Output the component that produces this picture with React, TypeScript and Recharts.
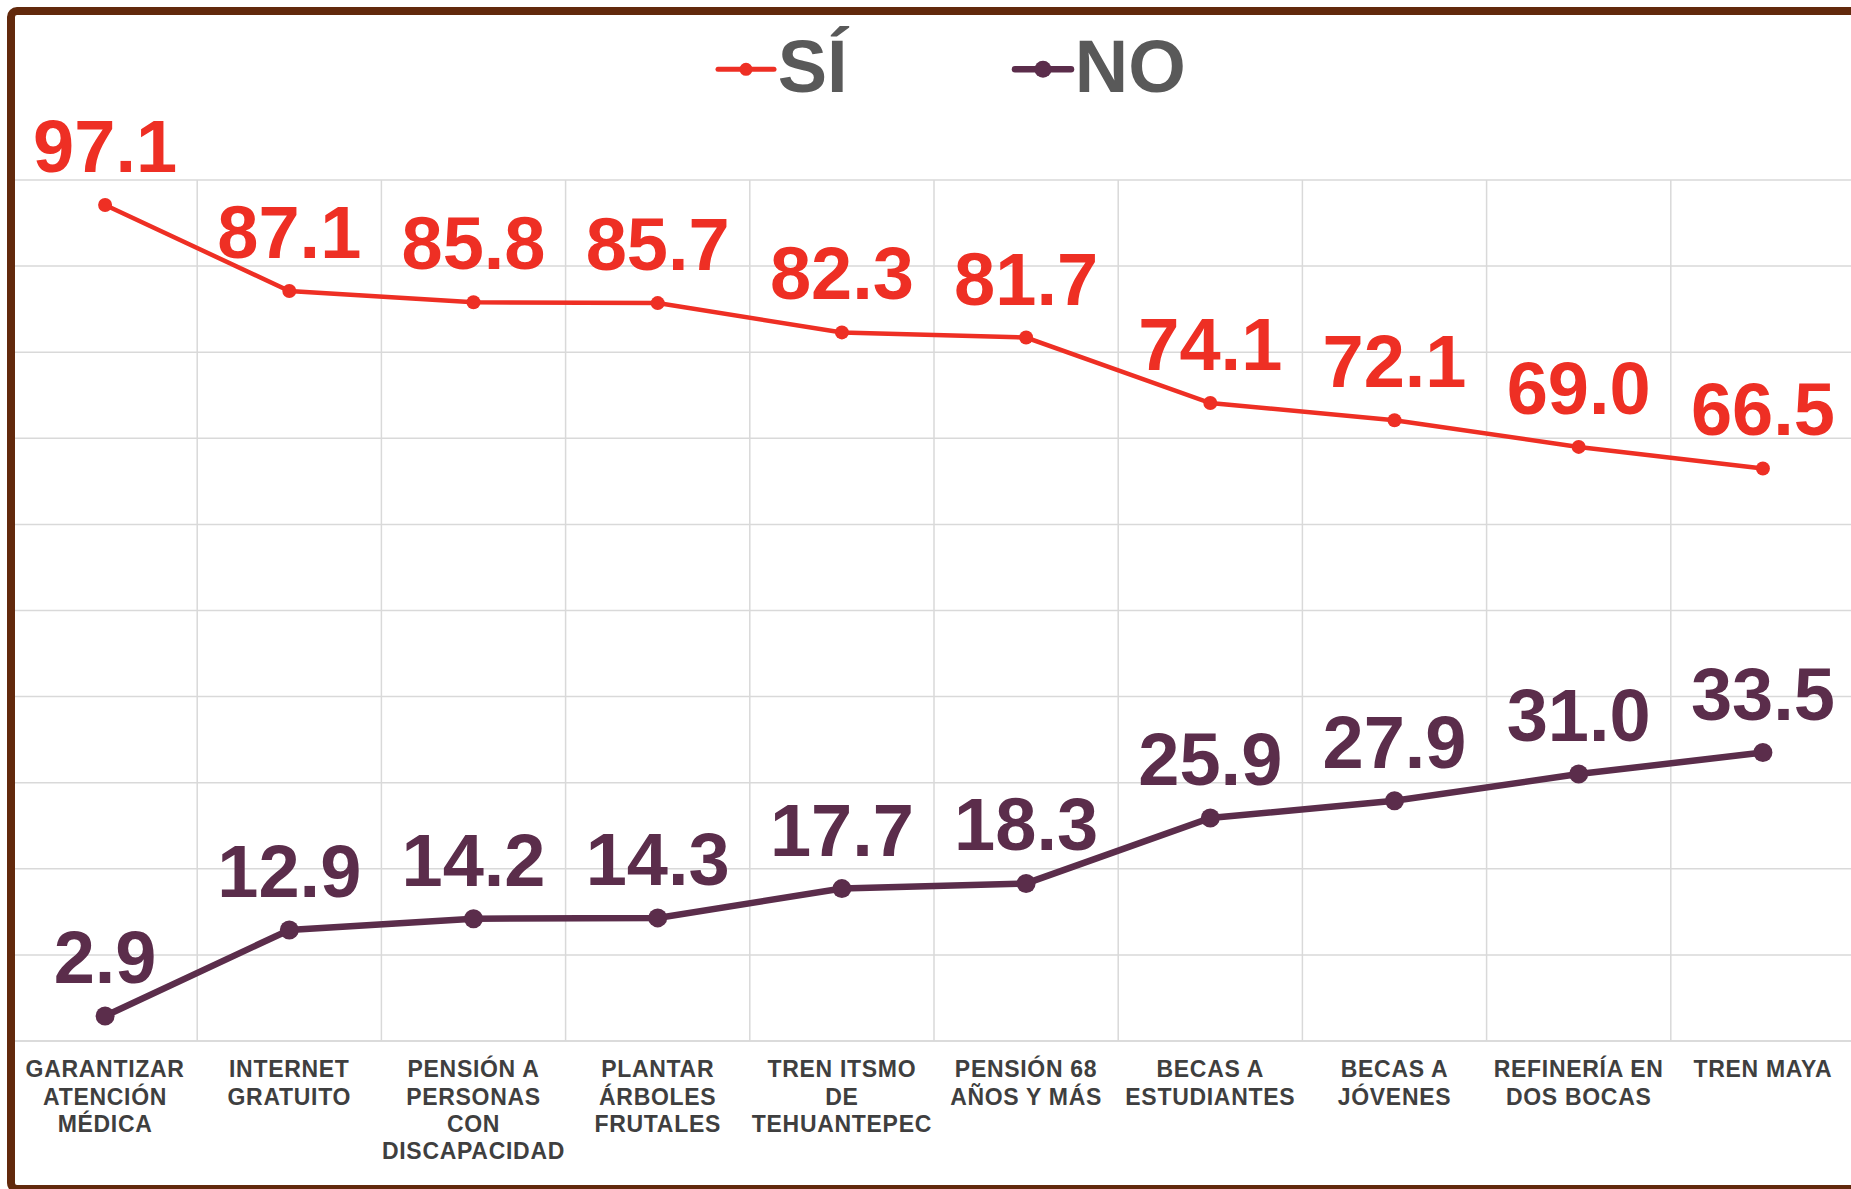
import React from 'react';
import { LineChart, Line, XAxis, YAxis, CartesianGrid, Legend, LabelList } from 'recharts';

const categories = [
  'GARANTIZAR ATENCIÓN MÉDICA',
  'INTERNET GRATUITO',
  'PENSIÓN A PERSONAS CON DISCAPACIDAD',
  'PLANTAR ÁRBOLES FRUTALES',
  'TREN ITSMO DE TEHUANTEPEC',
  'PENSIÓN 68 AÑOS Y MÁS',
  'BECAS A ESTUDIANTES',
  'BECAS A JÓVENES',
  'REFINERÍA EN DOS BOCAS',
  'TREN MAYA',
];

const tickLabelLines = [
  ['GARANTIZAR', 'ATENCIÓN', 'MÉDICA'],
  ['INTERNET', 'GRATUITO'],
  ['PENSIÓN A', 'PERSONAS', 'CON', 'DISCAPACIDAD'],
  ['PLANTAR', 'ÁRBOLES', 'FRUTALES'],
  ['TREN ITSMO', 'DE', 'TEHUANTEPEC'],
  ['PENSIÓN 68', 'AÑOS Y MÁS'],
  ['BECAS A', 'ESTUDIANTES'],
  ['BECAS A', 'JÓVENES'],
  ['REFINERÍA EN', 'DOS BOCAS'],
  ['TREN MAYA'],
];

const siValues = [97.1, 87.1, 85.8, 85.7, 82.3, 81.7, 74.1, 72.1, 69.0, 66.5];
const noValues = [2.9, 12.9, 14.2, 14.3, 17.7, 18.3, 25.9, 27.9, 31.0, 33.5];
const yTicks = [0, 10, 20, 30, 40, 50, 60, 70, 80, 90, 100];
const seriesNames = ['SÍ', 'NO'];

const data = categories.map((name, i) => ({ name, si: siValues[i], no: noValues[i] }));

const FONT = '"Liberation Sans", Arial, Helvetica, sans-serif';
const RED = '#EE2F24';
const PURPLE = '#5B2D4B';
const GRID = '#D9D9D9';
const LEGEND_TEXT = '#595959';
const TICK_TEXT = '#3F3F3F';
const BORDER = '#62290C';

const seriesStyle = [
  { lineWidth: 4.5, dotR: 7, legendWidth: 5, legendDotR: 6.5 },
  { lineWidth: 6.5, dotR: 9.5, legendWidth: 6.5, legendDotR: 8.5 },
];

const CategoryTick = (props: any) => {
  const { x, y, payload } = props;
  const idx = categories.indexOf(payload.value);
  const lines = idx >= 0 ? tickLabelLines[idx] : [String(payload.value)];
  return (
    <text
      x={x}
      y={y}
      textAnchor="middle"
      fill={TICK_TEXT}
      fontFamily={FONT}
      fontWeight="bold"
      fontSize={23}
      letterSpacing={0.7}
    >
      {lines.map((ln, i) => (
        <tspan key={i} x={x} y={y + 36.3 + i * 27.3}>
          {ln}
        </tspan>
      ))}
    </text>
  );
};

const makeLabel = (color: string) => (props: any) => {
  const px = props.x ?? props.viewBox?.x;
  const py = props.y ?? props.viewBox?.y;
  if (px == null || py == null || props.value == null) return null;
  return (
    <text
      x={px}
      y={py - 33}
      textAnchor="middle"
      fill={color}
      fontFamily={FONT}
      fontWeight="bold"
      fontSize={74}
    >
      {Number(props.value).toFixed(1)}
    </text>
  );
};

const renderLegend = (props: any) => {
  const payload = [...(props.payload || [])].sort(
    (a: any, b: any) => seriesNames.indexOf(a.value) - seriesNames.indexOf(b.value)
  );
  return (
    <svg width={520} height={90} style={{ display: 'block', overflow: 'visible' }}>
      {payload.map((p: any, i: number) => {
        const st = seriesStyle[i] || seriesStyle[0];
        const x0 = 18 + i * 297;
        const cy = 49.3;
        return (
          <g key={i}>
            <line
              x1={x0}
              y1={cy}
              x2={x0 + 56}
              y2={cy}
              stroke={p.color}
              strokeWidth={st.legendWidth}
              strokeLinecap="round"
            />
            <circle cx={x0 + 28} cy={cy} r={st.legendDotR} fill={p.color} />
            <text
              x={x0 + 59.7}
              y={72}
              fill={LEGEND_TEXT}
              fontFamily={FONT}
              fontWeight="bold"
              fontSize={74}
            >
              {p.value}
            </text>
          </g>
        );
      })}
    </svg>
  );
};

export default function App() {
  return (
    <div
      style={{
        position: 'absolute',
        left: 0,
        top: 0,
        width: 1851,
        height: 1189,
        overflow: 'hidden',
        background: '#ffffff',
      }}
    >
      <div style={{ position: 'absolute', left: 0, top: 0 }}>
        <LineChart
          width={1870}
          height={1189}
          data={data}
          margin={{ top: 180, right: 15, left: 13, bottom: 0 }}
        >
          <CartesianGrid
            stroke={GRID}
            strokeWidth={1.5}
            verticalCoordinatesGenerator={(args: any) => {
              const off = args.offset;
              const n = categories.length;
              return Array.from({ length: n + 1 }, (_, i) => off.left + (i * off.width) / n);
            }}
          />
          <XAxis
            dataKey="name"
            type="category"
            scale="band"
            interval={0}
            height={148}
            tickLine={false}
            tickSize={0}
            tickMargin={0}
            axisLine={{ stroke: GRID, strokeWidth: 1.5 }}
            tick={<CategoryTick />}
          />
          <YAxis hide domain={[0, 100]} ticks={yTicks} type="number" />
          <Legend
            verticalAlign="middle"
            align="center"
            content={renderLegend}
            wrapperStyle={{ left: 700, top: 20, width: 520, height: 90 }}
          />
          <Line
            name={seriesNames[0]}
            dataKey="si"
            stroke={RED}
            strokeWidth={seriesStyle[0].lineWidth}
            dot={{ r: seriesStyle[0].dotR, fill: RED, stroke: RED, strokeWidth: 0 }}
            activeDot={false}
            isAnimationActive={false}
          >
            <LabelList dataKey="si" content={makeLabel(RED)} />
          </Line>
          <Line
            name={seriesNames[1]}
            dataKey="no"
            stroke={PURPLE}
            strokeWidth={seriesStyle[1].lineWidth}
            dot={{ r: seriesStyle[1].dotR, fill: PURPLE, stroke: PURPLE, strokeWidth: 0 }}
            activeDot={false}
            isAnimationActive={false}
          >
            <LabelList dataKey="no" content={makeLabel(PURPLE)} />
          </Line>
        </LineChart>
      </div>
      <div
        style={{
          position: 'absolute',
          left: 7,
          top: 7,
          width: 1900,
          height: 1186,
          border: `8px solid ${BORDER}`,
          borderRadius: 10,
          boxSizing: 'border-box',
          pointerEvents: 'none',
        }}
      />
    </div>
  );
}
